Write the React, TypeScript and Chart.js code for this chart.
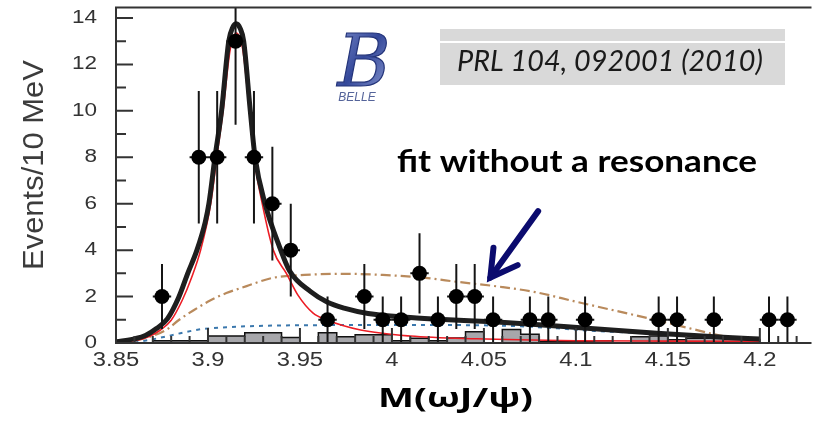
import React, { useEffect, useRef } from "react";
import { Chart, registerables } from "chart.js";

Chart.register(...registerables);

// ---- axis ticks ----
const xTickValues = [3.85, 3.9, 3.95, 4.0, 4.05, 4.1, 4.15, 4.2];
const xTickLabels = ["3.85", "3.9", "3.95", "4", "4.05", "4.1", "4.15", "4.2"];
const xMinorTickValues = [
  3.86, 3.87, 3.88, 3.89, 3.91, 3.92, 3.93, 3.94, 3.96, 3.97, 3.98, 3.99,
  4.01, 4.02, 4.03, 4.04, 4.06, 4.07, 4.08, 4.09, 4.11, 4.12, 4.13, 4.14,
  4.16, 4.17, 4.18, 4.19, 4.21, 4.22,
];
const yTickValues = [0, 2, 4, 6, 8, 10, 12, 14];
const yTickLabels = ["0", "2", "4", "6", "8", "10", "12", "14"];
const yMinorTickValues = [1, 3, 5, 7, 9, 11, 13];

// ---- data points (10 MeV bins) ----
const dataMass = [
  3.875, 3.895, 3.905, 3.915, 3.925, 3.935, 3.945, 3.965, 3.985, 3.995, 4.005,
  4.015, 4.025, 4.035, 4.045, 4.055, 4.075, 4.085, 4.105, 4.145, 4.155, 4.175,
  4.205, 4.215,
];
const dataEvents = [2, 8, 8, 13, 8, 6, 4, 1, 2, 1, 1, 3, 1, 2, 2, 1, 1, 1, 1, 1, 1, 1, 1, 1];
const dataError = [
  1.4, 2.85, 2.85, 3.6, 2.85, 2.45, 2.0, 1.0, 1.4, 1.0, 1.0, 1.73, 1.0, 1.4, 1.4,
  1.0, 1.0, 1.0, 1.0, 1.0, 1.0, 1.0, 1.0, 1.0,
];

// ---- total fit (black) ----
const totalMass = [
  3.85, 3.86, 3.866, 3.872, 3.878, 3.884, 3.889, 3.894, 3.8985, 3.9005, 3.9038,
  3.9074, 3.9113, 3.9135, 3.9154, 3.9175, 3.9194, 3.923, 3.9256, 3.931, 3.9391,
  3.9444, 3.956, 3.965, 3.974, 3.987, 4.01, 4.028, 4.055, 4.078, 4.108, 4.144,
  4.18, 4.2,
];
const totalFit = [
  0.05, 0.18, 0.32, 0.62, 1.05, 1.95, 3.0, 4.0, 5.2, 6.0, 8.0, 10.0, 13.0, 13.6,
  13.75, 13.55, 13.0, 10.0, 8.0, 6.0, 4.1, 3.1, 2.2, 1.75, 1.5, 1.27, 1.1, 1.01,
  0.91, 0.8, 0.62, 0.42, 0.25, 0.17,
];

// ---- signal component (red) ----
const signalMass = [
  3.85, 3.86, 3.867, 3.874, 3.88, 3.886, 3.891, 3.896, 3.9015, 3.9048, 3.9082,
  3.912, 3.9154, 3.919, 3.9225, 3.925, 3.9295, 3.9355, 3.9426, 3.949, 3.957,
  3.965, 3.983, 4.01, 4.046, 4.1, 4.15, 4.2,
];
const signalFit = [
  0.03, 0.1, 0.25, 0.55, 0.98, 1.84, 2.8, 4.0, 6.0, 8.0, 10.0, 12.6, 13.35, 12.6,
  10.0, 8.0, 6.0, 4.0, 3.0, 2.05, 1.3, 0.98, 0.56, 0.3, 0.18, 0.1, 0.08, 0.07,
];

// ---- background component (blue dotted) ----
const bkgMass = [
  3.86, 3.868, 3.876, 3.885, 3.895, 3.91, 3.93, 3.96, 4.0, 4.04, 4.07, 4.09,
  4.11, 4.13, 4.15, 4.175, 4.2,
];
const bkgFit = [
  0.03, 0.13, 0.26, 0.42, 0.58, 0.68, 0.74, 0.77, 0.78, 0.77, 0.72, 0.63, 0.52,
  0.45, 0.38, 0.28, 0.18,
];

// ---- fit without a resonance (brown dash-dot) ----
const noResMass = [
  3.85, 3.86, 3.871, 3.878, 3.884, 3.892, 3.9014, 3.91, 3.921, 3.935, 3.957,
  3.974, 3.995, 4.015, 4.037, 4.06, 4.078, 4.1, 4.144, 4.162, 4.18, 4.198,
];
const noResFit = [
  0.0, 0.1, 0.34, 0.6, 0.98, 1.4, 1.84, 2.15, 2.45, 2.8, 2.95, 2.98, 2.93, 2.83,
  2.62, 2.41, 2.19, 1.78, 0.98, 0.63, 0.3, 0.1,
];

// ---- sideband histogram (grey, 10 MeV bins, low edges) ----
const sideBinLow = [
  3.85, 3.86, 3.87, 3.88, 3.89, 3.9, 3.91, 3.92, 3.93, 3.94, 3.95, 3.96, 3.97,
  3.98, 3.99, 4.0, 4.01, 4.02, 4.03, 4.04, 4.05, 4.06, 4.07, 4.08, 4.09, 4.1,
  4.11, 4.12, 4.13, 4.14, 4.15, 4.16, 4.17, 4.18, 4.19, 4.2, 4.21, 4.22,
];
const sideCounts = [
  0, 0, 0.1, 0.1, 0.1, 0.3, 0.3, 0.44, 0.44, 0.24, 0, 0.44, 0.27, 0.36, 0.36,
  0.1, 0.2, 0.1, 0.22, 0.48, 0, 0.58, 0.38, 0.05, 0.05, 0.05, 0.1, 0, 0.27, 0.3,
  0.14, 0.2, 0.2, 0.15, 0.15, 0, 0, 0,
];
const sideBinWidth = 0.01;

const arrowTail = { x: 4.0795, y: 5.68 };
const arrowTip = { x: 4.0535, y: 2.82 };

const pts = (xs: number[], ys: number[]) => xs.map((x, i) => ({ x, y: ys[i] }));
const stepPts = (lows: number[], ys: number[], w: number) =>
  lows.flatMap((lo, i) => [
    { x: lo, y: ys[i] },
    { x: lo + w, y: ys[i] },
  ]);

function stretchText(
  ctx: CanvasRenderingContext2D,
  text: string,
  x: number,
  y: number,
  font: string,
  color: string,
  align: CanvasTextAlign,
  opts: { width?: number; scale?: number; baseline?: CanvasTextBaseline } = {}
) {
  ctx.save();
  ctx.font = font;
  const w = ctx.measureText(text).width;
  const s = opts.width ? opts.width / w : opts.scale ?? 1;
  ctx.translate(x, y);
  ctx.scale(s, 1);
  ctx.textAlign = align;
  ctx.textBaseline = opts.baseline ?? "alphabetic";
  ctx.fillStyle = color;
  ctx.fillText(text, 0, 0);
  ctx.restore();
}

const decorPlugin = {
  id: "decor",
  beforeDatasetDraw(chart: any, args: any) {
    if (args.index !== 0) return;
    const { ctx, chartArea } = chart;
    const xs = chart.scales.x;
    const ys = chart.scales.y;
    ctx.save();
    ctx.beginPath();
    ctx.rect(chartArea.left, chartArea.top, chartArea.right - chartArea.left, chartArea.bottom - chartArea.top);
    ctx.clip();
    ctx.strokeStyle = "#151515";
    ctx.lineWidth = 2;
    dataMass.forEach((m, i) => {
      const px = xs.getPixelForValue(m);
      const py = ys.getPixelForValue(dataEvents[i]);
      ctx.beginPath();
      ctx.moveTo(px, ys.getPixelForValue(dataEvents[i] + dataError[i]));
      ctx.lineTo(px, ys.getPixelForValue(Math.max(0, dataEvents[i] - dataError[i])));
      ctx.moveTo(xs.getPixelForValue(m - 0.005), py);
      ctx.lineTo(xs.getPixelForValue(m + 0.005), py);
      ctx.stroke();
    });
    ctx.restore();
  },
  afterDraw(chart: any) {
    const { ctx, chartArea } = chart;
    const xs = chart.scales.x;
    const ys = chart.scales.y;
    const L = chartArea.left;
    const R = chartArea.right;
    const T = chartArea.top;
    const B = chartArea.bottom;
    ctx.save();
    ctx.strokeStyle = "#333";
    ctx.lineWidth = 2;
    ctx.beginPath();
    ctx.moveTo(R + 2, T);
    ctx.lineTo(L, T);
    ctx.lineTo(L, B);
    ctx.lineTo(R + 2, B);
    ctx.stroke();
    ctx.beginPath();
    yTickValues.forEach((v) => {
      const p = ys.getPixelForValue(v);
      ctx.moveTo(L, p);
      ctx.lineTo(L + 17, p);
    });
    yMinorTickValues.forEach((v) => {
      const p = ys.getPixelForValue(v);
      ctx.moveTo(L, p);
      ctx.lineTo(L + 10, p);
    });
    xTickValues.forEach((v) => {
      const p = xs.getPixelForValue(v);
      ctx.moveTo(p, B);
      ctx.lineTo(p, B - 15);
    });
    xMinorTickValues.forEach((v) => {
      const p = xs.getPixelForValue(v);
      ctx.moveTo(p, B);
      ctx.lineTo(p, B - 7);
    });
    ctx.stroke();
    ctx.restore();

    yTickValues.forEach((v, i) => {
      stretchText(ctx, yTickLabels[i], L - 19, ys.getPixelForValue(v), "18px 'Liberation Sans'", "#333", "right", {
        scale: 1.25,
        baseline: "middle",
      });
    });
    xTickValues.forEach((v, i) => {
      stretchText(ctx, xTickLabels[i], xs.getPixelForValue(v), B + 18, "19.5px 'Liberation Sans'", "#333", "center", {
        scale: 1.22,
        baseline: "middle",
      });
    });

    ctx.save();
    ctx.translate(35, 165);
    ctx.rotate(-Math.PI / 2);
    ctx.font = "30px 'Liberation Sans'";
    const tw = ctx.measureText("Events/10 MeV").width;
    ctx.scale(210 / tw, 1);
    ctx.textAlign = "center";
    ctx.textBaseline = "middle";
    ctx.fillStyle = "#3c3c3c";
    ctx.fillText("Events/10 MeV", 0, 0);
    ctx.restore();

    stretchText(ctx, "M(ωJ/ψ)", 378, 407, "bold 27px 'Open Sans'", "#000", "left", { width: 155 });

    ctx.save();
    ctx.fillStyle = "#d9d9d9";
    ctx.fillRect(440, 29, 345, 56);
    ctx.fillStyle = "#ffffff";
    ctx.fillRect(440, 41, 345, 2);
    ctx.restore();
    stretchText(ctx, "PRL 104, 092001 (2010)", 457, 71, "italic 28px Lato", "#1a1a1a", "left", { width: 306 });

    stretchText(ctx, "fit without a resonance", 397, 172, "bold 31px Lato", "#000", "left", { width: 360 });

    const tx = xs.getPixelForValue(arrowTip.x);
    const ty = ys.getPixelForValue(arrowTip.y);
    const sx = xs.getPixelForValue(arrowTail.x);
    const sy = ys.getPixelForValue(arrowTail.y);
    const ang = Math.atan2(sy - ty, sx - tx);
    const hl = 30;
    ctx.save();
    ctx.strokeStyle = "#0b0b6e";
    ctx.lineWidth = 6;
    ctx.lineCap = "round";
    ctx.lineJoin = "miter";
    ctx.beginPath();
    ctx.moveTo(sx, sy);
    ctx.lineTo(tx, ty);
    ctx.stroke();
    ctx.beginPath();
    ctx.moveTo(tx + hl * Math.cos(ang - 0.52), ty + hl * Math.sin(ang - 0.52));
    ctx.lineTo(tx, ty);
    ctx.lineTo(tx + hl * Math.cos(ang + 0.52), ty + hl * Math.sin(ang + 0.52));
    ctx.stroke();
    ctx.restore();

    // BELLE logo
    ctx.save();
    const g = ctx.createLinearGradient(320, 35, 400, 90);
    g.addColorStop(0, "#8a9ad4");
    g.addColorStop(0.5, "#34489a");
    g.addColorStop(1, "#9aa8da");
    ctx.font = "italic 72px 'DejaVu Serif'";
    ctx.textAlign = "center";
    ctx.textBaseline = "alphabetic";
    ctx.lineWidth = 1.2;
    ctx.strokeStyle = "#24347a";
    ctx.fillStyle = g;
    ctx.fillText("B", 364, 86);
    ctx.strokeText("B", 364, 86);
    ctx.font = "italic 12px 'Liberation Sans'";
    ctx.fillStyle = "#55649a";
    ctx.fillText("BELLE", 357, 101);
    ctx.restore();
  },
};

export default function App() {
  const ref = useRef<HTMLCanvasElement | null>(null);
  useEffect(() => {
    if (!ref.current) return;
    const chart = new Chart(ref.current, {
      type: "line",
      data: {
        datasets: [
          {
            label: "data",
            data: pts(dataMass, dataEvents),
            showLine: false,
            pointRadius: 7.5,
            pointBackgroundColor: "#000",
            pointBorderWidth: 0,
            borderColor: "#000",
          },
          {
            label: "total fit",
            data: pts(totalMass, totalFit),
            borderColor: "#1e1e1e",
            borderWidth: 5,
            pointRadius: 0,
            cubicInterpolationMode: "monotone",
            fill: false,
          },
          {
            label: "signal",
            data: pts(signalMass, signalFit),
            borderColor: "#ec1c24",
            borderWidth: 1.6,
            pointRadius: 0,
            cubicInterpolationMode: "monotone",
            fill: false,
          },
          {
            label: "no resonance",
            data: pts(noResMass, noResFit),
            borderColor: "#b98a5c",
            borderWidth: 2.2,
            borderDash: [10, 4, 2, 4],
            pointRadius: 0,
            cubicInterpolationMode: "monotone",
            fill: false,
          },
          {
            label: "background",
            data: pts(bkgMass, bkgFit),
            borderColor: "#3b78ad",
            borderWidth: 2,
            borderDash: [4, 5],
            pointRadius: 0,
            cubicInterpolationMode: "monotone",
            fill: false,
          },
          {
            label: "sideband",
            data: stepPts(sideBinLow, sideCounts, sideBinWidth),
            borderColor: "#111",
            borderWidth: 1.5,
            backgroundColor: "#a7a7ab",
            fill: "origin",
            tension: 0,
            pointRadius: 0,
          },
        ],
      },
      options: {
        responsive: false,
        animation: false,
        events: [],
        layout: { padding: { left: 116, right: 0, top: 5, bottom: 80 } },
        scales: {
          x: { type: "linear", min: 3.85, max: 4.227, display: false },
          y: { type: "linear", min: 0, max: 14.45, display: false },
        },
        plugins: { legend: { display: false }, tooltip: { enabled: false } },
      },
      plugins: [decorPlugin],
    } as any);
    return () => chart.destroy();
  }, []);
  return (
    <div style={{ position: "absolute", left: 0, top: 0, width: 817, height: 423, background: "#fff" }}>
      <canvas ref={ref} width={817} height={423} />
    </div>
  );
}
